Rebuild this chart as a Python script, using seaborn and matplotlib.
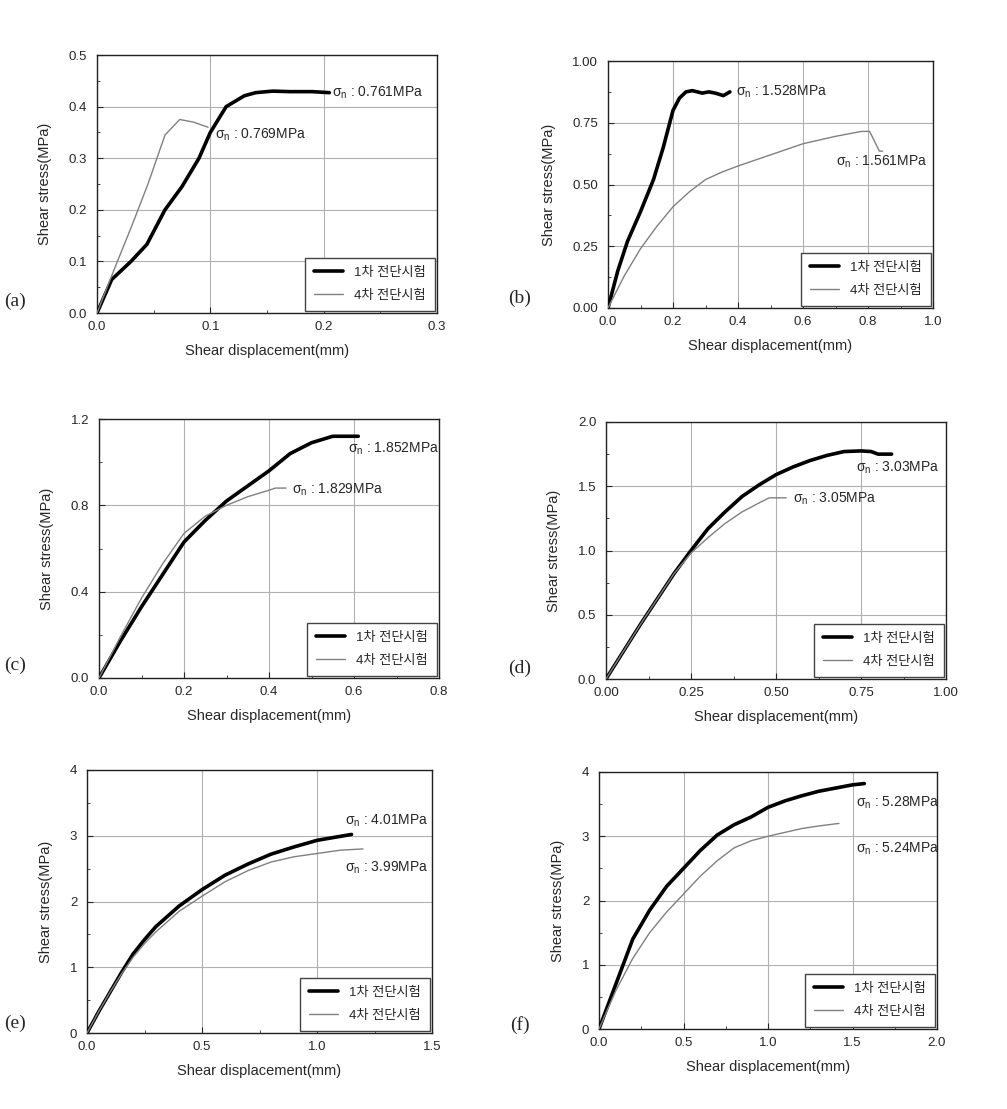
import numpy as np
import pandas as pd
import matplotlib
matplotlib.use('Agg')
import matplotlib.pyplot as plt
from matplotlib.ticker import MultipleLocator, FormatStrFormatter
import seaborn as sns

sns.set_style('ticks')
plt.rcParams['font.family'] = ['Liberation Sans', 'Noto Sans CJK KR', 'DejaVu Sans']
plt.rcParams['mathtext.fontset'] = 'custom'
plt.rcParams['mathtext.rm'] = 'Liberation Sans'
plt.rcParams['mathtext.it'] = 'Liberation Sans'

series_names = ['1차 전단시험', '4차 전단시험']

# (a)
a1_x = [0, 0.013, 0.03, 0.044, 0.06, 0.075, 0.09, 0.1, 0.114, 0.13, 0.14, 0.155, 0.17, 0.19, 0.205]
a1_y = [0, 0.065, 0.10, 0.133, 0.20, 0.245, 0.30, 0.35, 0.40, 0.421, 0.427, 0.430, 0.429, 0.429, 0.427]
a4_x = [0, 0.018, 0.03, 0.045, 0.06, 0.073, 0.085, 0.098]
a4_y = [0, 0.10, 0.165, 0.25, 0.345, 0.375, 0.37, 0.36]
# (b)
b1_x = [0, 0.03, 0.06, 0.1, 0.14, 0.17, 0.2, 0.22, 0.24, 0.26, 0.29, 0.31, 0.33, 0.355, 0.375]
b1_y = [0, 0.15, 0.27, 0.39, 0.52, 0.65, 0.80, 0.85, 0.875, 0.88, 0.87, 0.875, 0.87, 0.86, 0.875]
b4_x = [0, 0.05, 0.1, 0.15, 0.2, 0.25, 0.3, 0.35, 0.4, 0.5, 0.6, 0.7, 0.78, 0.805, 0.835, 0.845]
b4_y = [0, 0.13, 0.24, 0.33, 0.41, 0.47, 0.52, 0.55, 0.575, 0.62, 0.665, 0.695, 0.715, 0.715, 0.635, 0.635]
# (c)
c1_x = [0, 0.05, 0.1, 0.15, 0.2, 0.25, 0.3, 0.35, 0.4, 0.45, 0.5, 0.55, 0.61]
c1_y = [0, 0.17, 0.33, 0.48, 0.63, 0.73, 0.82, 0.89, 0.96, 1.04, 1.09, 1.12, 1.12]
c4_x = [0, 0.05, 0.1, 0.15, 0.2, 0.25, 0.3, 0.35, 0.4, 0.415, 0.44]
c4_y = [0, 0.19, 0.37, 0.53, 0.67, 0.75, 0.80, 0.84, 0.87, 0.88, 0.88]
# (d)
d1_x = [0, 0.1, 0.2, 0.25, 0.3, 0.35, 0.4, 0.45, 0.5, 0.55, 0.6, 0.65, 0.7, 0.75, 0.78, 0.8, 0.84]
d1_y = [0, 0.42, 0.82, 1.0, 1.17, 1.30, 1.42, 1.51, 1.59, 1.65, 1.70, 1.74, 1.77, 1.775, 1.77, 1.75, 1.75]
d4_x = [0, 0.1, 0.2, 0.25, 0.3, 0.35, 0.4, 0.45, 0.48, 0.53]
d4_y = [0, 0.42, 0.82, 0.98, 1.10, 1.21, 1.30, 1.37, 1.41, 1.41]
# (e)
e1_x = [0, 0.05, 0.1, 0.15, 0.2, 0.25, 0.3, 0.4, 0.5, 0.6, 0.7, 0.8, 0.9, 1.0, 1.1, 1.15]
e1_y = [0, 0.32, 0.62, 0.92, 1.2, 1.42, 1.62, 1.93, 2.18, 2.40, 2.57, 2.72, 2.83, 2.93, 2.99, 3.02]
e4_x = [0, 0.05, 0.1, 0.15, 0.2, 0.25, 0.3, 0.4, 0.5, 0.6, 0.7, 0.8, 0.9, 1.0, 1.1, 1.2]
e4_y = [0, 0.32, 0.62, 0.9, 1.15, 1.36, 1.54, 1.85, 2.08, 2.30, 2.47, 2.60, 2.68, 2.73, 2.78, 2.80]
# (f)
f1_x = [0, 0.1, 0.2, 0.3, 0.4, 0.5, 0.6, 0.7, 0.8, 0.9, 1.0, 1.1, 1.2, 1.3, 1.4, 1.5, 1.57]
f1_y = [0, 0.7, 1.4, 1.85, 2.22, 2.50, 2.78, 3.02, 3.18, 3.30, 3.45, 3.55, 3.63, 3.70, 3.75, 3.80, 3.82]
f4_x = [0, 0.1, 0.2, 0.3, 0.4, 0.5, 0.6, 0.7, 0.8, 0.9, 1.0, 1.1, 1.2, 1.3, 1.42]
f4_y = [0, 0.6, 1.1, 1.5, 1.82, 2.1, 2.38, 2.62, 2.82, 2.93, 3.0, 3.06, 3.12, 3.16, 3.2]

panels = [
    # label, series, labels, x setup, y setup, annotation positions, pixel box, tag pixel pos
    ('(a)', (a1_x, a1_y, a4_x, a4_y), ('0.761MPa', '0.769MPa'),
     (0.3, 0.1, '%.1f'), (0.5, 0.1, '%.1f'), ((0.207, 0.427), (0.104, 0.346)), (97, 55, 437, 313), (4, 301)),
    ('(b)', (b1_x, b1_y, b4_x, b4_y), ('1.528MPa', '1.561MPa'),
     (1.0, 0.2, '%.1f'), (1.0, 0.25, '%.2f'), ((0.395, 0.875), (0.70, 0.59)), (608, 61, 933, 308), (508, 298)),
    ('(c)', (c1_x, c1_y, c4_x, c4_y), ('1.852MPa', '1.829MPa'),
     (0.8, 0.2, '%.1f'), (1.2, 0.4, '%.1f'), ((0.585, 1.06), (0.455, 0.87)), (99, 419, 439, 678), (4, 665)),
    ('(d)', (d1_x, d1_y, d4_x, d4_y), ('3.03MPa', '3.05MPa'),
     (1.0, 0.25, '%.2f'), (2.0, 0.5, '%.1f'), ((0.735, 1.64), (0.55, 1.40)), (606, 422, 946, 679), (508, 668)),
    ('(e)', (e1_x, e1_y, e4_x, e4_y), ('4.01MPa', '3.99MPa'),
     (1.5, 0.5, '%.1f'), (4.0, 1.0, '%d'), ((1.12, 3.22), (1.12, 2.52)), (87, 770, 432, 1033), (4, 1023)),
    ('(f)', (f1_x, f1_y, f4_x, f4_y), ('5.28MPa', '5.24MPa'),
     (2.0, 0.5, '%.1f'), (4.0, 1.0, '%d'), ((1.52, 3.52), (1.52, 2.8)), (599, 772, 937, 1029), (510, 1025)),
]

W, H = 1007, 1109
fig = plt.figure(figsize=(W / 100, H / 100), dpi=100)

for tag, (x1, y1, x4, y4), (lab1, lab4), (xmax, xstep, xfmt), (ymax, ystep, yfmt), (p1, p4), (l, t, r, b), (tx, ty) in panels:
    ax = fig.add_axes([l / W, 1 - b / H, (r - l) / W, (b - t) / H])
    df = pd.concat([
        pd.DataFrame({'x': x1, 'y': y1, 'test': series_names[0]}),
        pd.DataFrame({'x': x4, 'y': y4, 'test': series_names[1]}),
    ])
    sns.lineplot(data=df, x='x', y='y', hue='test', size='test',
                 palette={series_names[0]: 'black', series_names[1]: '#808080'},
                 sizes={series_names[0]: 2.6, series_names[1]: 1.0},
                 estimator=None, sort=False, ax=ax, zorder=3)
    ax.set_xlim(0, xmax)
    ax.set_ylim(0, ymax)
    ax.xaxis.set_major_locator(MultipleLocator(xstep))
    ax.xaxis.set_minor_locator(MultipleLocator(xstep / 2))
    ax.yaxis.set_major_locator(MultipleLocator(ystep))
    ax.yaxis.set_minor_locator(MultipleLocator(ystep / 2))
    ax.xaxis.set_major_formatter(FormatStrFormatter(xfmt))
    ax.yaxis.set_major_formatter(FormatStrFormatter(yfmt))
    ax.tick_params(which='both', direction='in', labelsize=9.5, top=False, right=False)
    ax.tick_params(axis='x', which='major', length=4, pad=6)
    ax.tick_params(axis='y', which='major', length=4, pad=7)
    ax.tick_params(which='minor', length=2.5)
    ax.grid(True, which='major', color='#b0b0b0', linewidth=0.8)
    for s in ax.spines.values():
        s.set_color('#222222')
        s.set_linewidth(1.0)
    ax.set_xlabel('Shear displacement(mm)', fontsize=10.5, labelpad=8)
    ax.set_ylabel('Shear stress(MPa)', fontsize=10.5, labelpad=12)
    ax.text(p1[0], p1[1], r'$\sigma_n$ : ' + lab1, fontsize=10, va='center', ha='left')
    ax.text(p4[0], p4[1], r'$\sigma_n$ : ' + lab4, fontsize=10, va='center', ha='left')
    leg = ax.legend(loc='lower right', fontsize=9.5, fancybox=False, framealpha=1,
                    edgecolor='#444444', borderpad=0.7, handlelength=2.2, labelspacing=0.8,
                    borderaxespad=0.15)
    leg.get_frame().set_linewidth(1.0)
    leg.set_zorder(5)
    fig.text(tx / W, 1 - ty / H, tag, fontsize=14, family='Liberation Serif',
             va='center', ha='left')

fig.savefig('out.png', dpi=100)
